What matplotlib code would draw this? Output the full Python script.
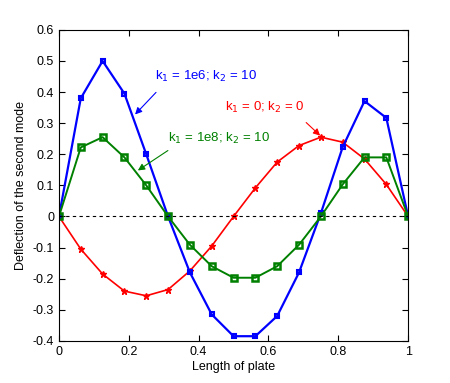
import matplotlib.pyplot as plt
import numpy as np

plt.rcParams['font.family'] = ['Liberation Sans', 'DejaVu Sans']

# Posiciones a lo largo de la placa (17 nodos)
x = np.linspace(0, 1, 17)

# Deflexión del segundo modo para cada caso
y_k1e6 = [0, 0.38, 0.50, 0.395, 0.20, 0.0, -0.18, -0.315, -0.385, -0.385,
          -0.32, -0.18, 0.01, 0.223, 0.371, 0.317, 0]
y_k0 = [0, -0.105, -0.185, -0.24, -0.255, -0.235, -0.175, -0.095, 0.0, 0.092,
        0.175, 0.228, 0.255, 0.239, 0.185, 0.103, 0]
y_k1e8 = [0, 0.222, 0.255, 0.19, 0.10, 0.0, -0.091, -0.16, -0.197, -0.197,
          -0.16, -0.091, 0.0, 0.103, 0.19, 0.19, 0]

fig = plt.figure(figsize=(4.5, 3.83), dpi=100)
ax = fig.add_axes([0.131, 0.110, 0.776, 0.812])

ax.plot(x, y_k0, color='red', marker='*', markersize=5, lw=1.2)
ax.plot(x, y_k1e6, color='blue', marker='s', markersize=3.5, mfc='none',
        mew=1.5, lw=1.6)
ax.plot(x, y_k1e8, color='green', marker='s', markersize=4.5, mfc='none',
        mew=1.8, lw=1.4)
ax.axhline(0, color='black', ls='--', lw=0.8, dashes=(3, 3))

# Anotaciones con flechas
flecha = dict(arrowstyle='-|>', lw=0.8, mutation_scale=10, shrinkA=0, shrinkB=0)
ax.annotate('', xy=(0.218, 0.328), xytext=(0.278, 0.399),
            arrowprops=dict(flecha, color='blue'))
ax.text(0.275, 0.45, 'k$_1$ = 1e6; k$_2$ = 10', color='blue', fontsize=9.5,
        va='center')
ax.annotate('', xy=(0.748, 0.26), xytext=(0.708, 0.302),
            arrowprops=dict(flecha, color='red'))
ax.text(0.476, 0.35, 'k$_1$ = 0; k$_2$ = 0', color='red', fontsize=9.5,
        va='center')
ax.annotate('', xy=(0.226, 0.148), xytext=(0.312, 0.212),
            arrowprops=dict(flecha, color='green'))
ax.text(0.312, 0.25, 'k$_1$ = 1e8; k$_2$ = 10', color='green', fontsize=9.5,
        va='center')

ax.set_xlim(0, 1)
ax.set_ylim(-0.4, 0.6)
ax.set_xticks(np.arange(0, 1.01, 0.2))
ax.set_xticklabels(['0', '0.2', '0.4', '0.6', '0.8', '1'])
ax.set_yticks(np.arange(-0.4, 0.61, 0.1))
ax.set_yticklabels(['-0.4', '-0.3', '-0.2', '-0.1', '0', '0.1', '0.2', '0.3',
                    '0.4', '0.5', '0.6'])
ax.tick_params(direction='in', top=True, right=True, labelsize=9, length=4)
ax.set_xlabel('Length of plate', fontsize=9, labelpad=2)
ax.set_ylabel('Deflection of the second mode', fontsize=9)

plt.savefig('out.png', dpi=100)
plt.close()
